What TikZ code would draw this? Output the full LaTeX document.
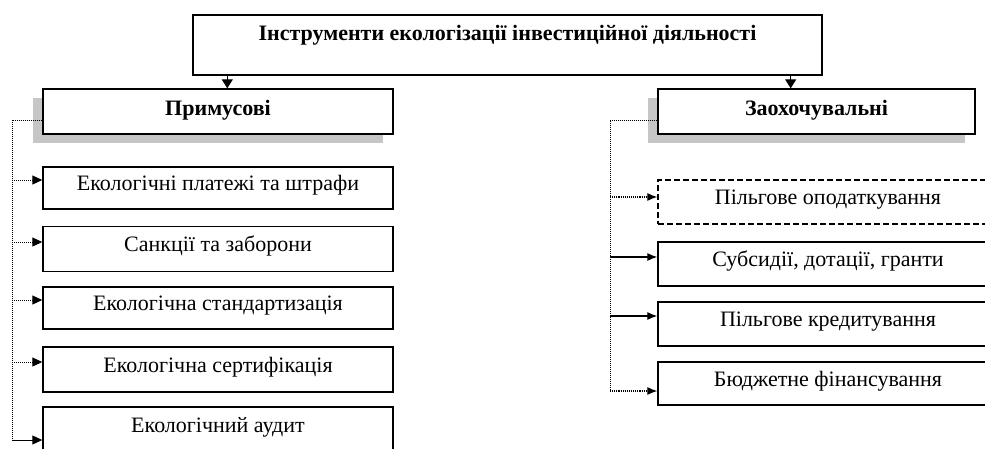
\documentclass[tikz,border=0pt]{standalone}
\usepackage{fontspec}
\setmainfont{Liberation Serif}
\usetikzlibrary{arrows.meta,shadows}

\begin{document}
\begin{tikzpicture}[x=1pt, y=-1pt,
  box/.style={rectangle, draw, line width=1.4pt, fill=white, align=center, inner sep=0pt,
    font=\fontsize{22}{24}\selectfont, text height=16pt, text depth=10.5pt},
  head/.style={box, font=\fontsize{22}{24}\selectfont\bfseries, text height=17pt, text depth=9.5pt,
    drop shadow={shadow xshift=-10pt, shadow yshift=-9pt, fill=gray!45, opacity=1}},
  arr/.style={-{Triangle[length=9pt,width=11pt]}, line width=1.3pt},
  trunk/.style={densely dotted, line width=1pt},
  larr/.style={-{Triangle[length=10pt,width=9pt]}, densely dotted, line width=1pt},
  rarr/.style={-{Latex[length=10pt,width=8pt]}, line width=1.1pt}
]
  \useasboundingbox (0,0) rectangle (985,448);
  \clip (0,0) rectangle (985,448);

  \node[box, font=\fontsize{22}{24}\selectfont\bfseries, minimum width=629pt, minimum height=60pt,
    text height=16pt, text depth=25.5pt] (top) at (507.5,45) {Інструменти екологізації інвестиційної діяльності};

  \node[head, minimum width=350pt, minimum height=45pt] (prym) at (218,111.5) {Примусові};
  \node[head, minimum width=317pt, minimum height=45pt] (zaoh) at (816.5,111.5) {Заохочувальні};

  \node[box, minimum width=350pt, minimum height=42pt] (eplat) at (218,188) {Екологічні платежі та штрафи};
  \node[box, minimum width=350pt, minimum height=45pt] (sank) at (218,249) {Санкції та заборони};
  \node[box, minimum width=350pt, minimum height=42pt] (estand) at (218,308) {Екологічна стандартизація};
  \node[box, minimum width=350pt, minimum height=45pt] (esert) at (218,369.5) {Екологічна сертифікація};
  \node[box, minimum width=350pt, minimum height=45pt] (eaud) at (218,429.5) {Екологічний аудит};

  \node[box, dash pattern=on 6pt off 3pt, minimum width=340pt, minimum height=44pt] (podat) at (828,202) {Пільгове оподаткування};
  \node[box, minimum width=340pt, minimum height=44pt] (subs) at (828,264) {Субсидії, дотації, гранти};
  \node[box, minimum width=340pt, minimum height=44pt] (kred) at (828,324) {Пільгове кредитування};
  \node[box, minimum width=340pt, minimum height=43pt] (budg) at (828,383.5) {Бюджетне фінансування};

  \coordinate (lx) at (12,0);
  \coordinate (rx) at (610,0);

  \draw[arr] ([xshift=35]top.south west) -- ([xshift=35]top.south west |- prym.north);
  \draw[arr] ([xshift=-32]top.south east) -- ([xshift=-32]top.south east |- zaoh.north);

  % примусові
  \draw[trunk] ([yshift=-8.5]prym.west) -| ([yshift=-11]eaud.west -| lx);
  \draw[larr] ([yshift=8]eplat.west -| lx) -- ([yshift=8]eplat.west);
  \draw[larr] ([yshift=7]sank.west -| lx) -- ([yshift=7]sank.west);
  \draw[larr] ([yshift=8]estand.west -| lx) -- ([yshift=8]estand.west);
  \draw[larr] ([yshift=7.5]esert.west -| lx) -- ([yshift=7.5]esert.west);
  \draw[larr, solid] ([yshift=-10.5]eaud.west -| lx) -- ([yshift=-10.5]eaud.west);

  % заохочувальні
  \draw[trunk] ([yshift=-8.5]zaoh.west) -| ([yshift=-7.5]budg.west -| rx);
  \draw[rarr, densely dotted] ([yshift=5]podat.west -| rx) -- ([yshift=5]podat.west);
  \draw[rarr] ([yshift=7]subs.west -| rx) -- ([yshift=7]subs.west);
  \draw[rarr] ([yshift=8]kred.west -| rx) -- ([yshift=8]kred.west);
  \draw[rarr, densely dotted] ([yshift=-7.5]budg.west -| rx) -- ([yshift=-7.5]budg.west);
\end{tikzpicture}
\end{document}
